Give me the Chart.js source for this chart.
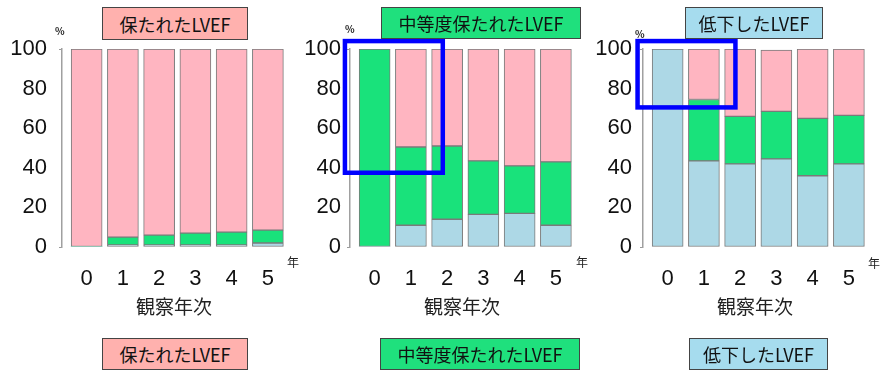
<!DOCTYPE html>
<html><head><meta charset="utf-8">
<script src="https://cdn.jsdelivr.net/npm/chart.js@4"></script>
<style>
html,body{margin:0;padding:0;background:#fff;}
#wrap{position:relative;width:891px;height:370px;overflow:hidden;}
canvas{position:absolute;top:0;}
.box{position:absolute;box-sizing:border-box;border:1.5px solid #444;font-family:"Noto Sans CJK JP","Liberation Sans",sans-serif;font-size:18px;color:#111;display:flex;align-items:center;justify-content:center;line-height:1;}
.lbl{position:absolute;font-family:"Noto Sans CJK JP","Liberation Sans",sans-serif;color:#222;line-height:1;}
</style></head>
<body><div id="wrap">
<canvas id="c1" width="293" height="370" style="left:0px"></canvas>
<canvas id="c2" width="293" height="370" style="left:288px"></canvas>
<canvas id="c3" width="293" height="370" style="left:581px"></canvas>
</div>
<script>
// ---- data ----
const years = [0, 1, 2, 3, 4, 5];
const yTicks = [0, 20, 40, 60, 80, 100];
const panelTitles = ["保たれたLVEF", "中等度保たれたLVEF", "低下したLVEF"];
const seriesNames = ["低下したLVEF", "中等度保たれたLVEF", "保たれたLVEF"];
const xTitle = "観察年次";
const unitY = "%";
const unitX = "年";

// preserved LVEF at baseline
const p1Reduced   = [0, 1, 1, 1, 1, 2];
const p1Mid       = [0, 4, 5, 6, 6.5, 6.5];
const p1Preserved = [100, 95, 94, 93, 92.5, 91.5];
// mid-range LVEF at baseline
const p2Reduced   = [0, 11, 14, 16.5, 17, 11];
const p2Mid       = [100, 39.5, 37, 27, 24, 32];
const p2Preserved = [0, 49.5, 49, 56.5, 59, 57];
// reduced LVEF at baseline
const p3Reduced   = [100, 43.5, 42, 44.5, 36, 42];
const p3Mid       = [0, 31, 24, 24, 29, 24.5];
const p3Preserved = [0, 25.5, 34, 31, 35, 33.5];

// highlight boxes in data space [xFrom, xTo, yFrom, yTo]
const p2Highlight = [-0.82, 1.88, 37.5, 104];
const p3Highlight = [-0.83, 1.87, 70.5, 104];

// ---- styling ----
const COL_BLUE = "#add8e6", COL_GREEN = "#19e27b", COL_PINK = "#ffb5c1";
const BOX_COLS = ["#ffb1ae", "#1fe07d", "#a6dcee"];
const NUMFONT = "'Liberation Sans', Arial, sans-serif";
const CJK = "'Noto Sans CJK JP', sans-serif";

function toPts(arr){ return years.map((y,i)=>({x:y, y:arr[i]})); }

const highlightPlugin = {
  id:'hl',
  afterDraw(chart, args, opts){
    if(!opts.box) return;
    const {ctx, scales:{x, y}} = chart;
    const b = opts.box;
    const x0 = x.getPixelForValue(b[0]), x1 = x.getPixelForValue(b[1]);
    const y0 = y.getPixelForValue(b[3]), y1 = y.getPixelForValue(b[2]);
    ctx.save();
    ctx.strokeStyle = "#0000ff";
    ctx.lineWidth = 4.5;
    ctx.strokeRect(x0, y0, x1-x0, y1-y0);
    ctx.restore();
  }
};

function makeChart(id, reduced, mid, preserved, tickPad, box){
  const ds = [
    {label: seriesNames[0], data: toPts(reduced), backgroundColor: COL_BLUE},
    {label: seriesNames[1], data: toPts(mid), backgroundColor: COL_GREEN},
    {label: seriesNames[2], data: toPts(preserved), backgroundColor: COL_PINK}
  ].map(d => Object.assign(d, {
    borderColor: "#7a7a7a",
    borderWidth: (c)=> (c.raw && c.raw.y > 0) ? 1 : 0,
    borderSkipped: false,
    barThickness: 31
  }));
  return new Chart(document.getElementById(id), {
    type: 'bar',
    data: { datasets: ds },
    options: {
      responsive: false,
      animation: false,
      layout: { padding: { top: 49, right: 0, left: 0, bottom: 0 } },
      plugins: { legend: {display:false}, tooltip: {enabled:false}, hl: {box: box} },
      scales: {
        x: {
          type: 'linear', stacked: true, min: -0.68, max: 5.5, offset: false,
          afterBuildTicks: s => { s.ticks = years.map(v=>({value:v})); },
          afterFit: s => { s.height = 123; },
          grid: { display: false, drawTicks: false, offset: false },
          border: { display: false },
          ticks: { font: {family: NUMFONT, size: 22}, color: "#111", padding: 19, maxRotation: 0, autoSkip: false,
                   callback: v => String(v) },
          title: { display: true, text: xTitle, font: {family: CJK, size: 19}, color: "#222",
                   padding: {top: 2, bottom: 52} }
        },
        y: {
          stacked: true, min: 0, max: 100,
          afterBuildTicks: s => { s.ticks = yTicks.map(v=>({value:v})); },
          afterFit: s => { s.width = 62; },
          grid: { display: true, drawOnChartArea: false, drawTicks: true, tickLength: 3,
                  color: c => (c.tick && (c.tick.value === 0 || c.tick.value === 100)) ? "#999" : "rgba(0,0,0,0)" },
          border: { display: true, color: "#a0a0a0", width: 1.5 },
          ticks: { font: {family: NUMFONT, size: 22}, color: "#111", padding: tickPad }
        }
      }
    },
    plugins: [highlightPlugin]
  });
}

makeChart('c1', p1Reduced, p1Mid, p1Preserved, 12, null);
makeChart('c2', p2Reduced, p2Mid, p2Preserved, 6, p2Highlight);
makeChart('c3', p3Reduced, p3Mid, p3Preserved, 8, p3Highlight);

// ---- text boxes and unit labels ----
const wrap = document.getElementById('wrap');
function addBox(text, l, t, w, h, col){
  const d = document.createElement('div');
  d.className = 'box'; d.textContent = text;
  Object.assign(d.style, {left:l+'px', top:t+'px', width:w+'px', height:h+'px', background:col});
  wrap.appendChild(d);
}
function addLbl(text, l, t, size, weight){
  const d = document.createElement('div');
  d.className = 'lbl'; d.textContent = text;
  Object.assign(d.style, {left:l+'px', top:t+'px', fontSize:size+'px', fontWeight:weight||'normal'});
  wrap.appendChild(d);
}
addBox(panelTitles[0], 102, 7, 146, 33, BOX_COLS[0]);
addBox(panelTitles[1], 381, 7, 200, 32, BOX_COLS[1]);
addBox(panelTitles[2], 685, 7, 138, 32, BOX_COLS[2]);
addBox(panelTitles[0], 102, 338, 146, 32, BOX_COLS[0]);
addBox(panelTitles[1], 380, 338, 200, 32, BOX_COLS[1]);
addBox(panelTitles[2], 689, 338, 139, 32, BOX_COLS[2]);

addLbl(unitY, 55, 26, 10, 'bold');
addLbl(unitY, 345, 24, 10, 'bold');
addLbl(unitY, 635, 29, 10, 'bold');
addLbl(unitX, 287, 256, 12);
addLbl(unitX, 576, 256, 12);
addLbl(unitX, 868, 257, 12);
</script>
</body></html>
